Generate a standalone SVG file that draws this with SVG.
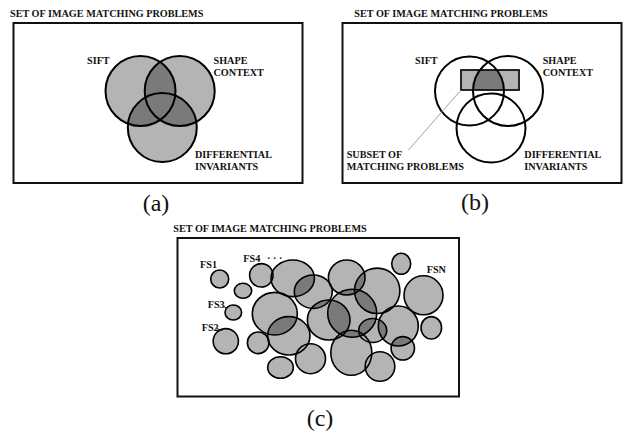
<svg xmlns="http://www.w3.org/2000/svg" width="624" height="433" viewBox="0 0 624 433">
<style>
.t{font-family:"Liberation Serif","Times New Roman",serif;font-weight:bold;font-size:10.2px;fill:#111}
.cap{font-family:"Liberation Serif","Times New Roman",serif;font-size:24px;fill:#111;text-anchor:middle}
.box{fill:none;stroke:#111;stroke-width:2}
.lf{fill:#b4b4b4;stroke:none}
.dk{fill:#7a7a7a;stroke:none}
.ol{fill:none;stroke:#000;stroke-width:2}
.ol2{fill:none;stroke:#000;stroke-width:1.6}
.lead{stroke:#888;stroke-width:0.8;fill:none}
.lead2{stroke:#111;stroke-width:1;fill:none}
</style>
<defs>
<clipPath id="aS"><circle cx="140.5" cy="91" r="35"/></clipPath>
<clipPath id="aC"><circle cx="179.7" cy="91" r="35"/></clipPath>
<clipPath id="aD"><circle cx="162.3" cy="127.5" r="34.5"/></clipPath>
<clipPath id="bS"><circle cx="469.5" cy="91" r="34.5"/></clipPath>
<clipPath id="bR"><rect x="461" y="70" width="58" height="20"/></clipPath>
<clipPath id="k7"><ellipse cx="274.8" cy="313.7" rx="22.5" ry="21.3"/></clipPath>
<clipPath id="k8"><ellipse cx="292.7" cy="278.3" rx="21.7" ry="18.3"/></clipPath>
<clipPath id="k9"><ellipse cx="313.3" cy="291.7" rx="19" ry="16.7"/></clipPath>
<clipPath id="k13"><ellipse cx="346.7" cy="277.5" rx="18.3" ry="17.5"/></clipPath>
<clipPath id="k15"><ellipse cx="352.2" cy="313.2" rx="24.5" ry="24"/></clipPath>
<clipPath id="k16"><ellipse cx="328.7" cy="320" rx="21.3" ry="20"/></clipPath>
<clipPath id="k17"><ellipse cx="372.7" cy="330.5" rx="14" ry="12"/></clipPath>
<clipPath id="k18"><circle cx="398.3" cy="326" r="20"/></clipPath>
</defs>
<rect width="624" height="433" fill="#fff"/>

<!-- Panel (a) -->
<g id="panel-a">
<text class="t" x="10" y="16.5">SET OF IMAGE MATCHING PROBLEMS</text>
<rect class="box" x="13.5" y="23" width="289" height="160"/>
<g id="a-fills">
<circle class="lf" cx="140.5" cy="91" r="35"/>
<circle class="lf" cx="179.7" cy="91" r="35"/>
<circle class="lf" cx="162.3" cy="127.5" r="34.5"/>
<circle class="dk" cx="179.7" cy="91" r="35" clip-path="url(#aS)"/>
<circle class="dk" cx="162.3" cy="127.5" r="34.5" clip-path="url(#aS)"/>
<circle class="dk" cx="162.3" cy="127.5" r="34.5" clip-path="url(#aC)"/>
</g>
<g id="a-sift"><circle class="ol" cx="140.5" cy="91" r="35"/><text class="t" x="87" y="64">SIFT</text></g>
<g id="a-shape"><circle class="ol" cx="179.7" cy="91" r="35"/><text class="t" x="213.5" y="64">SHAPE</text><text class="t" x="213.5" y="76">CONTEXT</text></g>
<g id="a-diff"><circle class="ol" cx="162.3" cy="127.5" r="34.5"/><text class="t" x="195" y="157.7">DIFFERENTIAL</text><text class="t" x="195" y="169.7">INVARIANTS</text></g>
<text class="cap" x="156" y="211">(a)</text>
</g>

<!-- Panel (b) -->
<g id="panel-b">
<text class="t" x="354.3" y="16.5">SET OF IMAGE MATCHING PROBLEMS</text>
<rect class="box" x="342.5" y="23" width="279" height="160"/>
<g id="b-subset">
<rect x="461" y="70" width="58" height="20" fill="#b4b4b4"/>
<g clip-path="url(#bR)"><circle class="dk" cx="508" cy="91" r="35" clip-path="url(#bS)"/></g>
<rect x="461" y="70" width="58" height="20" fill="none" stroke="#111" stroke-width="1.8"/>
<text class="t" x="346.7" y="158">SUBSET OF</text><text class="t" x="346.7" y="170">MATCHING PROBLEMS</text>
</g>
<g id="b-sift"><circle class="ol" cx="469.5" cy="91" r="34.5"/><text class="t" x="415" y="64">SIFT</text></g>
<g id="b-shape"><circle class="ol" cx="508" cy="91" r="35"/><text class="t" x="542.7" y="64">SHAPE</text><text class="t" x="542.7" y="76">CONTEXT</text></g>
<g id="b-diff"><circle class="ol" cx="491" cy="128" r="34.5"/><text class="t" x="524.3" y="158">DIFFERENTIAL</text><text class="t" x="524.3" y="170">INVARIANTS</text></g>
<text class="cap" x="475" y="210">(b)</text>
</g>

<!-- Panel (c) -->
<g id="panel-c">
<text class="t" x="173.3" y="231.5">SET OF IMAGE MATCHING PROBLEMS</text>
<rect class="box" x="177.5" y="238" width="281.5" height="158.5"/>
<g id="c-fills">
<circle class="lf" cx="219.7" cy="279" r="9"/>
<ellipse class="lf" cx="243" cy="290.8" rx="8.7" ry="7.5"/>
<circle class="lf" cx="261.3" cy="275.3" r="11.7"/>
<ellipse class="lf" cx="233.3" cy="312.5" rx="8.3" ry="7.5"/>
<circle class="lf" cx="225.8" cy="341.2" r="12.6"/>
<circle class="lf" cx="258.2" cy="342.8" r="10.8"/>
<ellipse class="lf" cx="274.8" cy="313.7" rx="22.5" ry="21.3"/>
<ellipse class="lf" cx="292.7" cy="278.3" rx="21.7" ry="18.3"/>
<ellipse class="lf" cx="313.3" cy="291.7" rx="19" ry="16.7"/>
<ellipse class="lf" cx="288.8" cy="335.8" rx="21.2" ry="19.2"/>
<ellipse class="lf" cx="280.5" cy="367.5" rx="12.8" ry="10.8"/>
<circle class="lf" cx="310.5" cy="358.7" r="15"/>
<ellipse class="lf" cx="346.7" cy="277.5" rx="18.3" ry="17.5"/>
<circle class="lf" cx="377.2" cy="290.8" r="22.7"/>
<ellipse class="lf" cx="352.2" cy="313.2" rx="24.5" ry="24"/>
<ellipse class="lf" cx="328.7" cy="320" rx="21.3" ry="20"/>
<ellipse class="lf" cx="372.7" cy="330.5" rx="14" ry="12"/>
<circle class="lf" cx="398.3" cy="326" r="20"/>
<circle class="lf" cx="402.8" cy="348.3" r="11.7"/>
<ellipse class="lf" cx="351.3" cy="352.8" rx="20.5" ry="22.5"/>
<circle class="lf" cx="380" cy="366.5" r="14.8"/>
<ellipse class="lf" cx="401.2" cy="263.8" rx="9.5" ry="10.5"/>
<circle class="lf" cx="423.5" cy="295.3" r="19.5"/>
<ellipse class="lf" cx="431.3" cy="327.8" rx="10.3" ry="11.2"/>
<ellipse class="dk" cx="313.3" cy="291.7" rx="19" ry="16.7" clip-path="url(#k8)"/>
<ellipse class="dk" cx="288.8" cy="335.8" rx="21.2" ry="19.2" clip-path="url(#k7)"/>
<ellipse class="dk" cx="328.7" cy="320" rx="21.3" ry="20" clip-path="url(#k9)"/>
<ellipse class="dk" cx="328.7" cy="320" rx="21.3" ry="20" clip-path="url(#k15)"/>
<circle class="dk" cx="377.2" cy="290.8" r="22.7" clip-path="url(#k15)"/>
<circle class="dk" cx="377.2" cy="290.8" r="22.7" clip-path="url(#k13)"/>
<ellipse class="dk" cx="352.2" cy="313.2" rx="24.5" ry="24" clip-path="url(#k13)"/>
<ellipse class="dk" cx="372.7" cy="330.5" rx="14" ry="12" clip-path="url(#k15)"/>
<ellipse class="dk" cx="372.7" cy="330.5" rx="14" ry="12" clip-path="url(#k18)"/>
<ellipse class="dk" cx="351.3" cy="352.8" rx="20.5" ry="22.5" clip-path="url(#k15)"/>
<circle class="dk" cx="402.8" cy="348.3" r="11.7" clip-path="url(#k18)"/>
</g>
<g id="fs1"><circle class="ol2" cx="219.7" cy="279" r="9"/><text class="t" x="200" y="268.3">FS1</text></g>
<g id="c2"><ellipse class="ol2" cx="243" cy="290.8" rx="8.7" ry="7.5"/></g>
<g id="fs4"><circle class="ol2" cx="261.3" cy="275.3" r="11.7"/><text class="t" x="243.3" y="261.7">FS4</text><text class="t" x="267" y="261.7">· · ·</text></g>
<g id="fs3"><ellipse class="ol2" cx="233.3" cy="312.5" rx="8.3" ry="7.5"/><text class="t" x="207.7" y="308.3">FS3</text></g>
<g id="fs2"><circle class="ol2" cx="225.8" cy="341.2" r="12.6"/><text class="t" x="201.7" y="331">FS2</text></g>
<g id="c6"><circle class="ol2" cx="258.2" cy="342.8" r="10.8"/></g>
<g id="c7"><ellipse class="ol2" cx="274.8" cy="313.7" rx="22.5" ry="21.3"/></g>
<g id="c8"><ellipse class="ol2" cx="292.7" cy="278.3" rx="21.7" ry="18.3"/></g>
<g id="c9"><ellipse class="ol2" cx="313.3" cy="291.7" rx="19" ry="16.7"/></g>
<g id="c10"><ellipse class="ol2" cx="288.8" cy="335.8" rx="21.2" ry="19.2"/></g>
<g id="c11"><ellipse class="ol2" cx="280.5" cy="367.5" rx="12.8" ry="10.8"/></g>
<g id="c12"><circle class="ol2" cx="310.5" cy="358.7" r="15"/></g>
<g id="c13"><ellipse class="ol2" cx="346.7" cy="277.5" rx="18.3" ry="17.5"/></g>
<g id="c14"><circle class="ol2" cx="377.2" cy="290.8" r="22.7"/></g>
<g id="c15"><ellipse class="ol2" cx="352.2" cy="313.2" rx="24.5" ry="24"/></g>
<g id="c16"><ellipse class="ol2" cx="328.7" cy="320" rx="21.3" ry="20"/></g>
<g id="c17"><ellipse class="ol2" cx="372.7" cy="330.5" rx="14" ry="12"/></g>
<g id="c18"><circle class="ol2" cx="398.3" cy="326" r="20"/></g>
<g id="c19"><circle class="ol2" cx="402.8" cy="348.3" r="11.7"/></g>
<g id="c20"><ellipse class="ol2" cx="351.3" cy="352.8" rx="20.5" ry="22.5"/></g>
<g id="c21"><circle class="ol2" cx="380" cy="366.5" r="14.8"/></g>
<g id="c22"><ellipse class="ol2" cx="401.2" cy="263.8" rx="9.5" ry="10.5"/></g>
<g id="fsn"><circle class="ol2" cx="423.5" cy="295.3" r="19.5"/><text class="t" x="426.7" y="272.7">FSN</text></g>
<g id="c24"><ellipse class="ol2" cx="431.3" cy="327.8" rx="10.3" ry="11.2"/></g>
<text class="cap" x="320" y="426">(c)</text>
</g>

<g id="connectors">
<line class="lead" x1="461" y1="90" x2="408.5" y2="150"/>
<line class="lead2" x1="216.5" y1="328.5" x2="222.5" y2="330.5"/>
<line class="lead2" x1="224" y1="306.5" x2="227" y2="308.5"/>
</g>
</svg>
